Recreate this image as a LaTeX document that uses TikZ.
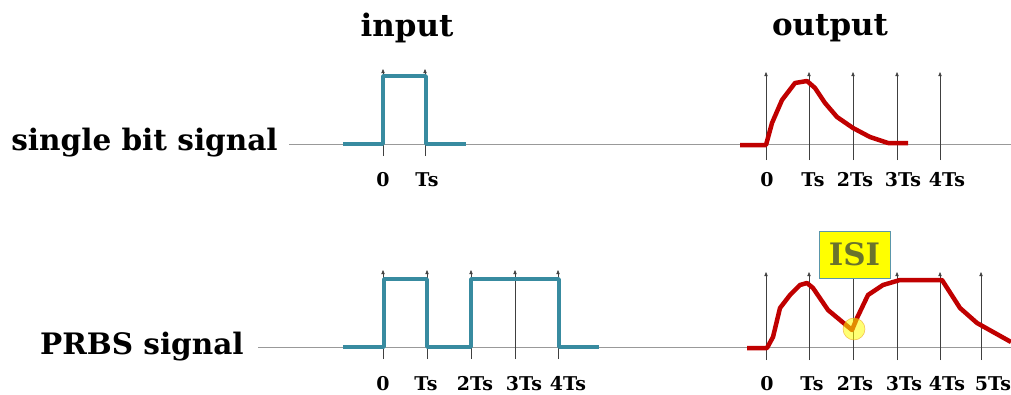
\documentclass[tikz,border=0pt]{standalone}
\usepackage{fontspec}
\setmainfont{DejaVu Serif}
\usetikzlibrary{arrows.meta}

\definecolor{InSig}{RGB}{56,139,160}
\definecolor{OutSig}{RGB}{192,0,0}
\definecolor{ISIfill}{RGB}{255,255,0}
\definecolor{ISItext}{RGB}{105,115,45}
\definecolor{ISIedge}{RGB}{90,150,170}
\definecolor{Mark}{RGB}{235,150,20}

\tikzset{
  axis/.style={draw=black!40, line width=0.6pt},
  sample/.style={draw=black!75, line width=0.35pt, -{Triangle[length=3pt,width=2.4pt]}},
  insig/.style={draw=InSig, line width=2.6pt, line join=round},
  outsig/.style={draw=OutSig, line width=3.2pt, line join=round},
  title/.style={font=\bfseries\fontsize{22}{26}\selectfont, inner sep=0pt},
  rowlbl/.style={font=\bfseries\fontsize{21}{25}\selectfont, inner sep=0pt, anchor=east},
  ticklbl/.style={font=\bfseries\fontsize{13.5}{16}\selectfont, inner sep=0pt},
  isibox/.style={draw=ISIedge, line width=0.5pt, fill=ISIfill, text=ISItext,
    font=\bfseries\fontsize{22}{26}\selectfont, inner sep=0pt}
}

\begin{document}
\begin{tikzpicture}[x=0.025cm,y=-0.025cm]

    \useasboundingbox (0,0) rectangle (1011,394);

    % titles
    \node[title] (tin) at (407,28) {input};
    \node[title] (tout) at (830,28) {output};
    \node[rowlbl] (rsingle) at (278,143) {single bit signal};
    \node[rowlbl] (rprbs) at (244,347) {PRBS signal};

    % axes
    \coordinate (a1s) at (289,144);
    \coordinate (a1e) at (1011,144);
    \coordinate (a2s) at (258,347);
    \coordinate (a2e) at (1011,347);
    \draw[axis] (a1s) -- (a1e);
    \draw[axis] (a2s) -- (a2e);

    % sampling instants, single bit
    \foreach \x/\n in {383/a,425/b} {
        \coordinate (sit\n) at (\x,156);
        \coordinate (sih\n) at (\x,69);
        \draw[sample] (sit\n) -- (sih\n);
    }
    \foreach \x/\n in {766/a,809/b,853/c,897/d,940/e} {
        \coordinate (sot\n) at (\x,160);
        \coordinate (soh\n) at (\x,72);
        \draw[sample] (sot\n) -- (soh\n);
    }

    % sampling instants, PRBS
    \foreach \x/\n in {383/a,427/b,471/c,515/d,558/e} {
        \coordinate (pit\n) at (\x,359);
        \coordinate (pih\n) at (\x,270);
        \draw[sample] (pit\n) -- (pih\n);
    }
    \foreach \x/\n in {766/a,809/b,853/c,897/d,940/e,981/f} {
        \coordinate (pot\n) at (\x,360);
        \coordinate (poh\n) at (\x,272);
        \draw[sample] (pot\n) -- (poh\n);
    }

    % tick labels
    \node[ticklbl] (l1a) at (383,180) {0};
    \node[ticklbl] (l1b) at (427,180) {Ts};
    \node[ticklbl] (l2a) at (767,180) {0};
    \node[ticklbl] (l2b) at (813,180) {Ts};
    \node[ticklbl] (l2c) at (855,180) {2Ts};
    \node[ticklbl] (l2d) at (903,180) {3Ts};
    \node[ticklbl] (l2e) at (947,180) {4Ts};
    \node[ticklbl] (l3a) at (383,384) {0};
    \node[ticklbl] (l3b) at (426,384) {Ts};
    \node[ticklbl] (l3c) at (475,384) {2Ts};
    \node[ticklbl] (l3d) at (524,384) {3Ts};
    \node[ticklbl] (l3e) at (568,384) {4Ts};
    \node[ticklbl] (l4a) at (767,384) {0};
    \node[ticklbl] (l4b) at (812,384) {Ts};
    \node[ticklbl] (l4c) at (855,384) {2Ts};
    \node[ticklbl] (l4d) at (904,384) {3Ts};
    \node[ticklbl] (l4e) at (947,384) {4Ts};
    \node[ticklbl] (l4f) at (993,384) {5Ts};

    % input signals
    \draw[insig] (343,144) -- (383,144) -- (383,76) -- (426,76) -- (426,144) -- (466,144);
    \draw[insig] (343,347) -- (384,347) -- (384,279) -- (427,279) -- (427,347)
        -- (471,347) -- (471,279) -- (559,279) -- (559,347) -- (599,347);

    % output signals
    \draw[outsig] (740,145) -- (766,145) -- (772,123) -- (782,100) -- (795,83) -- (807,81)
        -- (815,88) -- (825,103) -- (837,117) -- (853,128) -- (870,137) -- (888,143) -- (908,143);
    \draw[outsig] (747,348) -- (767,348) -- (773,337) -- (780,308) -- (790,295) -- (800,285)
        -- (807,283) -- (813,288) -- (828,310) -- (852,330) -- (857,318) -- (868,295)
        -- (883,285) -- (900,280) -- (942,280) -- (960,308) -- (977,323) -- (1011,342);

    % ISI marker
    \node[circle, minimum size=22*0.025cm, inner sep=0pt, fill=ISIfill, fill opacity=0.55,
          draw=Mark, draw opacity=0.6, line width=0.4pt] (isimark) at (854,329) {};
    \node[isibox, minimum width=71*0.025cm, minimum height=47*0.025cm] (isi) at (854.5,254.5) {ISI};

\end{tikzpicture}
\end{document}
